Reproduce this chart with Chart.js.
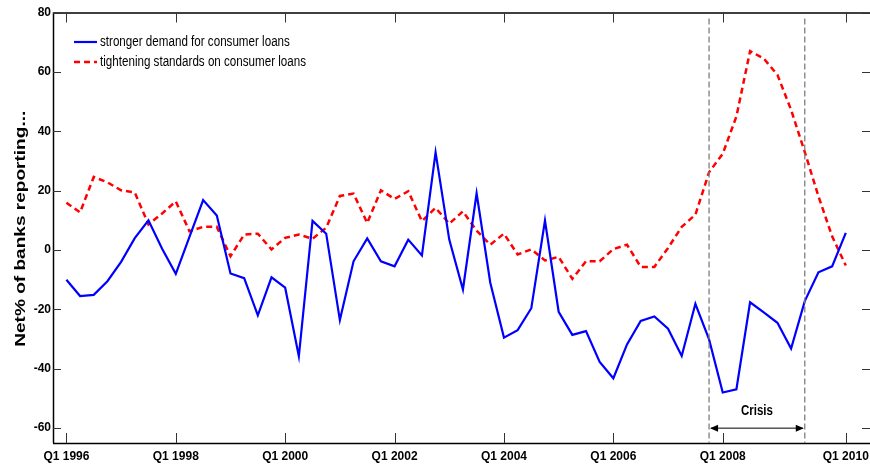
<!DOCTYPE html>
<html>
<head>
<meta charset="utf-8">
<script src="https://cdn.jsdelivr.net/npm/chart.js@4.4.0/dist/chart.umd.min.js"></script>
<style>
  html, body { margin: 0; padding: 0; background: #fff; }
  #wrap { width: 870px; height: 470px; position: relative; }
</style>
</head>
<body>
<div id="wrap"><canvas id="c" width="870" height="470"></canvas></div>
<script>
// Quarterly survey readings, Q1 1996 onward (net % of banks)
const demand = [
  -10, -15.5, -15.1, -10.5, -4, 4, 10, 0.4, -8, 4.4,
  16.8, 11.6, -7.9, -9.5, -22, -9.2, -12.7, -35.8, 9.8, 5.5,
  -23.6, -3.8, 3.9, -3.8, -5.5, 3.5, -1.8, 32.9, 3.5, -13.3,
  19.1, -11, -29.5, -27, -19.6, 9.9, -20.8, -28.6, -27.3, -37.7,
  -43.2, -31.8, -23.9, -22.4, -26.5, -35.7, -18.1, -30.1, -48, -46.9,
  -17.6, -21, -24.5, -33.2, -17.2, -7.5, -5.5, 5.8
];
const tightening = [
  15.9, 12.7, 24.6, 22.8, 20.1, 19.4, 8.6, 12.3, 16.4, 6.3,
  7.8, 7.8, -2.1, 5.2, 5.5, 0.2, 4.1, 5.2, 3.8, 7.5,
  18.2, 19, 9.1, 20.1, 17.2, 19.8, 9.7, 14.2, 8.9, 13,
  6.5, 1.8, 5.5, -1.5, 0.2, -3.5, -2.3, -9.7, -3.8, -3.8,
  0.3, 1.8, -5.7, -5.7, 0.7, 7.8, 11.9, 26.2, 32.4, 45,
  67, 64.5, 59, 47.2, 33, 18.1, 4.6, -5.2
];
const seriesNames = ['stronger demand for consumer loans', 'tightening standards on consumer loans'];
const tickLabels = ['Q1 1996', 'Q1 1998', 'Q1 2000', 'Q1 2002', 'Q1 2004', 'Q1 2006', 'Q1 2008', 'Q1 2010'];
const tickIndex = [0, 8, 16, 24, 32, 40, 48, 57];
const yTicks = [-60, -40, -20, 0, 20, 40, 60, 80];
const crisisStart = 47, crisisEnd = 54;
const crisisLabel = 'Crisis';
const yTitle = 'Net% of banks reporting...';

const SANS = "'Liberation Sans', Arial, Helvetica, sans-serif";

const toPoints = arr => arr.map((v, i) => ({ x: i, y: v }));

// Text drawn in a condensed face by squeezing it horizontally
function narrowText(ctx, text, px, py, squeeze, align) {
  ctx.save();
  ctx.translate(px, py);
  ctx.scale(squeeze, 1);
  ctx.textAlign = align;
  ctx.fillText(text, 0, 0);
  ctx.restore();
}

// Box frame, inward ticks, crisis window, legend and axis title
const decorations = {
  id: 'decorations',
  afterDraw(chart) {
    const { ctx, chartArea: a, scales: { x, y } } = chart;
    ctx.save();

    // frame
    ctx.strokeStyle = '#000';
    ctx.lineWidth = 1.5;
    ctx.beginPath();
    ctx.moveTo(a.left + 0.5, a.bottom);
    ctx.lineTo(a.left + 0.5, a.top + 0.5);
    ctx.lineTo(a.right + 1, a.top + 0.5);
    ctx.moveTo(a.left, a.bottom + 0.5);
    ctx.lineTo(a.right + 1, a.bottom + 0.5);
    ctx.stroke();

    // inward ticks on all sides
    ctx.strokeStyle = '#333';
    ctx.lineWidth = 1;
    ctx.beginPath();
    tickIndex.forEach(t => {
      const px = Math.round(x.getPixelForValue(t)) + 0.5;
      ctx.moveTo(px, a.bottom); ctx.lineTo(px, a.bottom - 10);
      ctx.moveTo(px, a.top); ctx.lineTo(px, a.top + 10);
    });
    yTicks.forEach(t => {
      const py = Math.round(y.getPixelForValue(t)) + 0.5;
      ctx.moveTo(a.left, py); ctx.lineTo(a.left + 8, py);
      ctx.moveTo(a.right, py); ctx.lineTo(a.right - 8, py);
    });
    ctx.stroke();

    // crisis window boundaries
    const xs = x.getPixelForValue(crisisStart);
    const xe = x.getPixelForValue(crisisEnd);
    ctx.strokeStyle = '#7f7f7f';
    ctx.lineWidth = 1.3;
    ctx.setLineDash([6, 3]);
    ctx.beginPath();
    [xs, xe].forEach(px => {
      ctx.moveTo(px, y.getPixelForValue(78));
      ctx.lineTo(px, a.bottom);
    });
    ctx.stroke();
    ctx.setLineDash([]);

    // double-headed arrow
    const ay = y.getPixelForValue(-60);
    ctx.strokeStyle = '#000';
    ctx.fillStyle = '#000';
    ctx.lineWidth = 1;
    ctx.beginPath();
    ctx.moveTo(xs + 2, ay); ctx.lineTo(xe - 2, ay);
    ctx.stroke();
    ctx.beginPath();
    ctx.moveTo(xs + 1, ay); ctx.lineTo(xs + 9, ay - 3.5); ctx.lineTo(xs + 9, ay + 3.5); ctx.closePath();
    ctx.moveTo(xe - 1, ay); ctx.lineTo(xe - 9, ay - 3.5); ctx.lineTo(xe - 9, ay + 3.5); ctx.closePath();
    ctx.fill();

    ctx.font = 'bold 14px ' + SANS;
    ctx.textBaseline = 'middle';
    narrowText(ctx, crisisLabel, (xs + xe) / 2, y.getPixelForValue(-54.3), 0.82, 'center');

    // legend
    const ds = chart.data.datasets;
    ctx.font = '14px ' + SANS;
    ds.forEach((d, k) => {
      const ly = a.top + 29.5 + k * 20;
      ctx.strokeStyle = d.borderColor;
      ctx.lineWidth = d.borderWidth;
      ctx.setLineDash(d.borderDash || []);
      ctx.beginPath();
      ctx.moveTo(a.left + 21, ly); ctx.lineTo(a.left + 44, ly);
      ctx.stroke();
      ctx.setLineDash([]);
      ctx.fillStyle = '#000';
      narrowText(ctx, d.label, a.left + 47, ly + 0.5, 0.83, 'left');
    });

    // y-axis title (elongated along its reading direction)
    ctx.font = 'bold 15px ' + SANS;
    ctx.fillStyle = '#000';
    ctx.textAlign = 'center';
    ctx.textBaseline = 'middle';
    ctx.translate(21, (a.top + a.bottom) / 2 + 1);
    ctx.rotate(-Math.PI / 2);
    ctx.scale(1.27, 1);
    ctx.fillText(yTitle, 0, 0);

    ctx.restore();
  }
};

new Chart(document.getElementById('c'), {
  type: 'line',
  data: {
    datasets: [
      { label: seriesNames[0], data: toPoints(demand), borderColor: '#0000ff',
        borderWidth: 2.2, pointRadius: 0, tension: 0, fill: false },
      { label: seriesNames[1], data: toPoints(tightening), borderColor: '#ff0000',
        borderWidth: 2.5, borderDash: [6, 4], pointRadius: 0, tension: 0, fill: false }
    ]
  },
  options: {
    responsive: false,
    animation: false,
    events: [],
    layout: { padding: { top: 12.5, right: 0, left: 0, bottom: 0 } },
    plugins: { legend: { display: false }, tooltip: { enabled: false } },
    scales: {
      x: {
        type: 'linear', min: -0.98, max: 58.77,
        grid: { display: false, drawTicks: false },
        border: { display: false },
        afterBuildTicks: s => { s.ticks = tickIndex.map(v => ({ value: v })); },
        afterFit: s => { s.height = 27; s.paddingLeft = 0; s.paddingRight = 0; },
        ticks: {
          autoSkip: false, maxRotation: 0, padding: 6, color: '#000',
          font: { family: SANS, size: 12, weight: 'bold' },
          callback: (v, i) => tickLabels[i]
        }
      },
      y: {
        min: -65, max: 80,
        grid: { display: false, drawTicks: false },
        border: { display: false },
        afterBuildTicks: s => { s.ticks = yTicks.map(v => ({ value: v })); },
        afterFit: s => { s.width = 53; s.paddingTop = 0; s.paddingBottom = 0; },
        ticks: {
          padding: 2, color: '#000',
          font: { family: SANS, size: 12, weight: 'bold' },
          callback: v => String(v)
        }
      }
    }
  },
  plugins: [decorations]
});
</script>
</body>
</html>
